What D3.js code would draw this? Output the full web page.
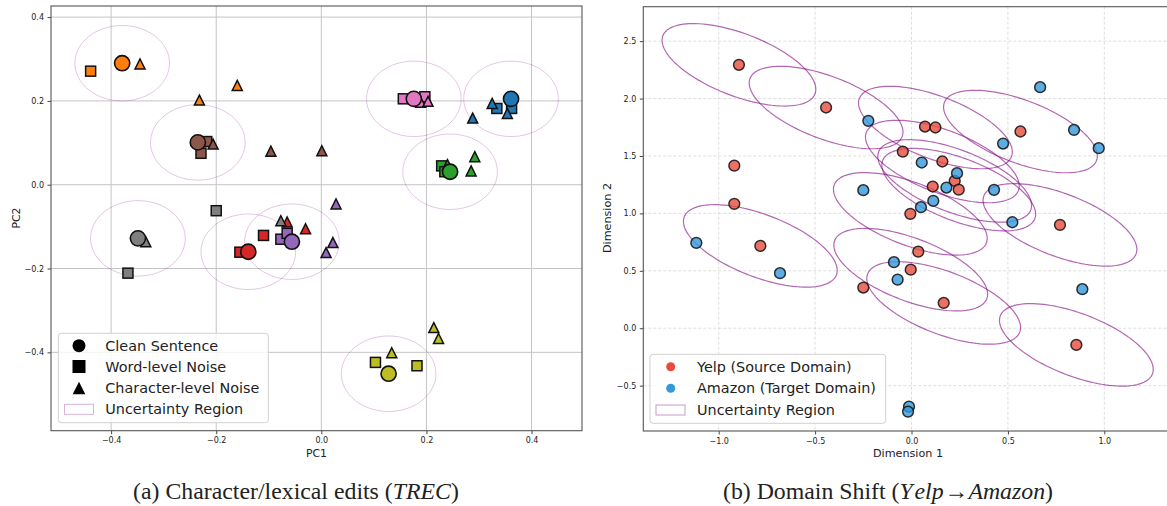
<!DOCTYPE html>
<html>
<head>
<meta charset="utf-8">
<script src="https://cdnjs.cloudflare.com/ajax/libs/d3/7.8.5/d3.min.js"></script>
<style>
  body { margin: 0; background: #fff; }
  text { font-family: "DejaVu Sans", sans-serif; fill: #222; }
</style>
</head>
<body>
<div id="chart"></div>
<script>
// ---- panel (a): TREC, PCA of clean / noisy sentences, class index -> tab10 colour
var trecClean = [
  [0, 0.361, 0.205], [1, -0.379, 0.290], [2, 0.245, 0.031], [3, -0.139, -0.160],
  [4, -0.056, -0.136], [5, -0.235, 0.101], [6, 0.176, 0.205], [7, -0.349, -0.128],
  [8, 0.128, -0.451]
];
var trecWord = [
  [0, 0.334, 0.182], [0, 0.362, 0.182],
  [1, -0.439, 0.271],
  [2, 0.229, 0.045], [2, 0.235, 0.031],
  [3, -0.155, -0.161], [3, -0.110, -0.121],
  [4, -0.077, -0.130], [4, -0.065, -0.116],
  [5, -0.229, 0.075], [5, -0.218, 0.103],
  [6, 0.156, 0.205], [6, 0.197, 0.210],
  [7, -0.368, -0.211], [7, -0.200, -0.062],
  [8, 0.103, -0.424], [8, 0.182, -0.432]
];
var trecChar = [
  [0, 0.325, 0.194], [0, 0.354, 0.170], [0, 0.288, 0.159],
  [1, -0.345, 0.288], [1, -0.232, 0.202], [1, -0.160, 0.237],
  [2, 0.240, 0.048], [2, 0.292, 0.067], [2, 0.285, 0.033],
  [3, -0.065, -0.089], [3, -0.030, -0.105],
  [4, 0.028, -0.046], [4, 0.022, -0.138], [4, 0.009, -0.162],
  [5, -0.206, 0.097], [5, -0.096, 0.080], [5, 0.001, 0.081],
  [6, 0.189, 0.197], [6, 0.203, 0.199],
  [7, -0.334, -0.136], [7, -0.077, -0.086],
  [8, 0.134, -0.401], [8, 0.214, -0.341], [8, 0.223, -0.367]
];
var trecRadius = 0.09;
var trecTicks = [-0.4, -0.2, 0.0, 0.2, 0.4];
var trecLegend = ["Clean Sentence", "Word-level Noise", "Character-level Noise", "Uncertainty Region"];

// ---- panel (b): Yelp -> Amazon embedding
var yelpPts = [
  [-0.895, 2.294], [-0.443, 1.922], [-0.919, 1.416], [-0.919, 1.083], [-0.784, 0.717],
  [-0.250, 0.354], [-0.045, 1.538], [0.035, 0.667], [-0.004, 0.510], [0.167, 0.220],
  [0.855, -0.145], [0.770, 0.900], [0.565, 1.713], [0.070, 1.756], [0.124, 1.748],
  [0.160, 1.452], [0.224, 1.283], [0.110, 1.234], [0.245, 1.207], [-0.006, 0.996]
];
var amazonPts = [
  [-0.224, 1.806], [-0.250, 1.202], [-1.116, 0.743], [-0.682, 0.479], [-0.091, 0.575],
  [-0.072, 0.423], [0.886, 0.340], [-0.013, -0.683], [-0.018, -0.726], [0.667, 2.099],
  [0.843, 1.727], [0.971, 1.568], [0.475, 1.608], [0.053, 1.443], [0.236, 1.350],
  [0.181, 1.225], [0.428, 1.205], [0.113, 1.109], [0.049, 1.054], [0.523, 0.923]
];
// uncertainty ellipses around some source points: [cx, cy]
var regionCenters = [
  [-0.895, 2.294], [-0.443, 1.922], [0.124, 1.748], [0.565, 1.713], [0.160, 1.452],
  [0.224, 1.283], [0.245, 1.207], [-0.006, 0.996], [-0.004, 0.510], [0.167, 0.220],
  [0.770, 0.900], [0.855, -0.145], [-0.784, 0.717]
];
var regionW = 0.96, regionH = 0.48, regionAngle = -40;
var domXTicks = [-1.0, -0.5, 0.0, 0.5, 1.0];
var domYTicks = [-0.5, 0.0, 0.5, 1.0, 1.5, 2.0, 2.5];
var domLegend = ["Yelp (Source Domain)", "Amazon (Target Domain)", "Uncertainty Region"];

var W = 1167, H = 506;
var svg = d3.select("#chart").append("svg").attr("width", W).attr("height", H);
svg.append("rect").attr("width", W).attr("height", H).attr("fill", "#fff");

var pal = d3.schemeCategory10;
var fmt = d3.format(".1f");

// builds an ellipse path in data space then maps it through the scales
function ellipse(x, y, cx, cy, rx, ry, deg) {
  var a = deg * Math.PI / 180, pts = [];
  for (var i = 0; i < 120; i++) {
    var t = i / 120 * 2 * Math.PI;
    var dx = rx * Math.cos(t), dy = ry * Math.sin(t);
    pts.push([x(cx + dx * Math.cos(a) - dy * Math.sin(a)), y(cy + dx * Math.sin(a) + dy * Math.cos(a))]);
  }
  return d3.line().curve(d3.curveLinearClosed)(pts);
}

function triangle(s) { return "M0," + (-s) + "L" + s + "," + s + "L" + (-s) + "," + s + "Z"; }

function frame(x, y, xt, yt, dashed, clipId) {
  var x0 = x.range()[0], x1 = x.range()[1], y0 = y.range()[1], y1 = y.range()[0];
  var g = svg.append("g");
  g.selectAll(".gx").data(xt).enter().append("line")
    .attr("x1", d => x(d)).attr("x2", d => x(d)).attr("y1", y0).attr("y2", y1)
    .attr("stroke", dashed ? "#d6d6d6" : "#c4c4c4").attr("stroke-width", dashed ? 0.8 : 1)
    .attr("stroke-dasharray", dashed ? "3,2" : null);
  g.selectAll(".gy").data(yt).enter().append("line")
    .attr("y1", d => y(d)).attr("y2", d => y(d)).attr("x1", x0).attr("x2", x1)
    .attr("stroke", dashed ? "#d6d6d6" : "#c4c4c4").attr("stroke-width", dashed ? 0.8 : 1)
    .attr("stroke-dasharray", dashed ? "3,2" : null);

  var ax = svg.append("g").attr("transform", "translate(0," + y1 + ")")
    .call(d3.axisBottom(x).tickValues(xt).tickFormat(fmt).tickSize(3.5).tickPadding(3.5));
  var ay = svg.append("g").attr("transform", "translate(" + x0 + ",0)")
    .call(d3.axisLeft(y).tickValues(yt).tickFormat(fmt).tickSize(3.5).tickPadding(3.5));
  [ax, ay].forEach(function (a) {
    a.select(".domain").remove();
    a.selectAll("line").attr("stroke", "#444");
    a.selectAll("text").style("font-size", "8px").attr("fill", "#222");
  });

  svg.append("clipPath").attr("id", clipId).append("rect")
    .attr("x", x0).attr("y", y0).attr("width", x1 - x0).attr("height", y1 - y0);
  return svg.append("g").attr("clip-path", "url(#" + clipId + ")");
}

function spines(x, y) {
  var x0 = x.range()[0], x1 = x.range()[1], y0 = y.range()[1], y1 = y.range()[0];
  svg.append("rect").attr("x", x0).attr("y", y0).attr("width", x1 - x0).attr("height", y1 - y0)
    .attr("fill", "none").attr("stroke", "#555").attr("stroke-width", 1.1);
}

// ================= panel (a)
var xa = d3.scaleLinear().domain([-0.5144, 0.496]).range([51, 582]);
var ya = d3.scaleLinear().domain([-0.587, 0.4265]).range([430.7, 6]);
var pa = frame(xa, ya, trecTicks, trecTicks, false, "clipA");

pa.selectAll(".reg").data(trecClean).enter().append("path")
  .attr("d", d => ellipse(xa, ya, d[1], d[2], trecRadius, trecRadius, 0))
  .attr("fill", "none").attr("stroke", "purple").attr("stroke-opacity", 0.22).attr("stroke-width", 1);

d3.range(9).forEach(function (c) {
  pa.selectAll(".sq" + c).data(trecWord.filter(d => d[0] === c)).enter().append("rect")
    .attr("x", d => xa(d[1]) - 5).attr("y", d => ya(d[2]) - 5).attr("width", 10).attr("height", 10)
    .attr("fill", pal[c]).attr("stroke", "#111").attr("stroke-width", 1.5);
  pa.selectAll(".tr" + c).data(trecChar.filter(d => d[0] === c)).enter().append("path")
    .attr("d", triangle(5))
    .attr("transform", d => "translate(" + xa(d[1]) + "," + ya(d[2]) + ")")
    .attr("fill", pal[c]).attr("stroke", "#111").attr("stroke-width", 1.5).attr("stroke-linejoin", "miter");
  pa.selectAll(".cl" + c).data(trecClean.filter(d => d[0] === c)).enter().append("circle")
    .attr("cx", d => xa(d[1])).attr("cy", d => ya(d[2])).attr("r", 7.6)
    .attr("fill", pal[c]).attr("stroke", "#111").attr("stroke-width", 1.6);
});
spines(xa, ya);

svg.append("text").attr("x", 316.5).attr("y", 457).attr("text-anchor", "middle")
  .style("font-size", "10.8px").text("PC1");
svg.append("text").attr("transform", "translate(19.5,218) rotate(-90)").attr("text-anchor", "middle")
  .style("font-size", "10.8px").text("PC2");

var la = svg.append("g");
la.append("rect").attr("x", 58.3).attr("y", 333.3).attr("width", 210).attr("height", 89.4).attr("rx", 3)
  .attr("fill", "#fff").attr("fill-opacity", 0.8).attr("stroke", "#d0d0d0");
var rowsA = [345.7, 366.5, 388, 409.3];
la.append("circle").attr("cx", 79).attr("cy", rowsA[0]).attr("r", 6.5).attr("fill", "#000");
la.append("rect").attr("x", 72.5).attr("y", rowsA[1] - 6.5).attr("width", 13).attr("height", 13).attr("fill", "#000");
la.append("path").attr("d", triangle(6.3)).attr("transform", "translate(79," + rowsA[2] + ")").attr("fill", "#000");
la.append("rect").attr("x", 64.5).attr("y", rowsA[3] - 5).attr("width", 29).attr("height", 10)
  .attr("fill", "none").attr("stroke", "purple").attr("stroke-opacity", 0.3);
la.selectAll(".lt").data(trecLegend).enter().append("text")
  .attr("x", 105.3).attr("y", (d, i) => rowsA[i]).attr("dy", "0.36em")
  .style("font-size", "14.4px").attr("fill", "#111").text(d => d);

svg.append("text").attr("x", 296).attr("y", 499).attr("text-anchor", "middle")
  .style("font-family", "'Liberation Serif', serif").style("font-size", "23.8px").attr("fill", "#000")
  .call(function (t) {
    t.append("tspan").text("(a) Character/lexical edits (");
    t.append("tspan").style("font-style", "italic").text("TREC");
    t.append("tspan").text(")");
  });

// ================= panel (b)
var xb = d3.scaleLinear().domain([-1.391, 1.351]).range([643.3, 1172]);
var yb = d3.scaleLinear().domain([-0.895, 2.80]).range([431, 6.7]);
var pb = frame(xb, yb, domXTicks, domYTicks, true, "clipB");

pb.selectAll(".reg").data(regionCenters).enter().append("path")
  .attr("d", d => ellipse(xb, yb, d[0], d[1], regionW / 2, regionH / 2, regionAngle))
  .attr("fill", "none").attr("stroke", "purple").attr("stroke-opacity", 0.6).attr("stroke-width", 1.2);

pb.selectAll(".yelp").data(yelpPts).enter().append("circle")
  .attr("cx", d => xb(d[0])).attr("cy", d => yb(d[1])).attr("r", 5.4)
  .attr("fill", "#e74c3c").attr("fill-opacity", 0.8)
  .attr("stroke", "#111").attr("stroke-opacity", 0.85).attr("stroke-width", 1.5);
pb.selectAll(".amz").data(amazonPts).enter().append("circle")
  .attr("cx", d => xb(d[0])).attr("cy", d => yb(d[1])).attr("r", 5.4)
  .attr("fill", "#3498db").attr("fill-opacity", 0.8)
  .attr("stroke", "#111").attr("stroke-opacity", 0.85).attr("stroke-width", 1.5);
spines(xb, yb);

svg.append("text").attr("x", 908).attr("y", 457).attr("text-anchor", "middle")
  .style("font-size", "11.2px").text("Dimension 1");
svg.append("text").attr("transform", "translate(611,218) rotate(-90)").attr("text-anchor", "middle")
  .style("font-size", "11.2px").text("Dimension 2");

var lb = svg.append("g");
lb.append("rect").attr("x", 650).attr("y", 354.3).attr("width", 235.7).attr("height", 69).attr("rx", 3)
  .attr("fill", "#fff").attr("fill-opacity", 0.8).attr("stroke", "#d0d0d0");
var rowsB = [366.7, 388.3, 410];
lb.append("circle").attr("cx", 670.7).attr("cy", rowsB[0]).attr("r", 4.5).attr("fill", "#e74c3c");
lb.append("circle").attr("cx", 670.7).attr("cy", rowsB[1]).attr("r", 4.5).attr("fill", "#3498db");
lb.append("rect").attr("x", 656).attr("y", rowsB[2] - 5).attr("width", 29).attr("height", 10)
  .attr("fill", "none").attr("stroke", "purple").attr("stroke-opacity", 0.4);
lb.selectAll(".lt").data(domLegend).enter().append("text")
  .attr("x", 697).attr("y", (d, i) => rowsB[i]).attr("dy", "0.36em")
  .style("font-size", "14.4px").attr("fill", "#111").text(d => d);

svg.append("text").attr("x", 888).attr("y", 499).attr("text-anchor", "middle")
  .style("font-family", "'Liberation Serif', serif").style("font-size", "23.8px").attr("fill", "#000")
  .call(function (t) {
    t.append("tspan").text("(b) Domain Shift (");
    t.append("tspan").style("font-style", "italic").text("Y");
    t.append("tspan").attr("dx", 4).style("font-style", "italic").text("elp");
    t.append("tspan").attr("dx", 1).text("\u2192");
    t.append("tspan").style("font-style", "italic").text("Amazon");
    t.append("tspan").text(")");
  });
</script>
</body>
</html>
